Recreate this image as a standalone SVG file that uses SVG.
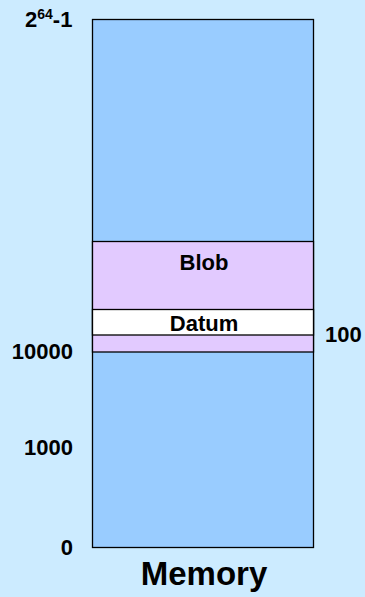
<svg xmlns="http://www.w3.org/2000/svg" width="365" height="597" viewBox="0 0 365 597">
<style>
text{font-family:"Liberation Sans",Arial,sans-serif;font-weight:bold;fill:#000}
.lbl{font-size:22px}
.seg{stroke:#000;stroke-width:1.3}
</style>
<rect width="365" height="597" fill="#CCEBFF"/>
<g id="memory">
<rect class="seg" x="92.5" y="19.5" width="221" height="528" fill="#99CCFF"/>
</g>
<g id="blob">
<rect class="seg" x="92.5" y="241.5" width="221" height="110.5" fill="#E2CAFF"/>
<text class="lbl" x="204" y="270" text-anchor="middle" font-size="23.5">Blob</text>
</g>
<g id="datum">
<rect class="seg" x="92.5" y="309.5" width="221" height="25.5" fill="#FFFFFF"/>
<text class="lbl" x="204" y="331" text-anchor="middle" font-size="24">Datum</text>
</g>
<g id="labels">
<text class="lbl" x="25" y="27">2<tspan font-size="14" dy="-8">64</tspan><tspan dy="8">-1</tspan></text>
<text class="lbl" x="73" y="359" text-anchor="end">10000</text>
<text class="lbl" x="73" y="455" text-anchor="end">1000</text>
<text class="lbl" x="73" y="555" text-anchor="end">0</text>
<text class="lbl" x="325" y="342">100</text>
<text x="204" y="585" text-anchor="middle" font-size="33">Memory</text>
</g>
</svg>
